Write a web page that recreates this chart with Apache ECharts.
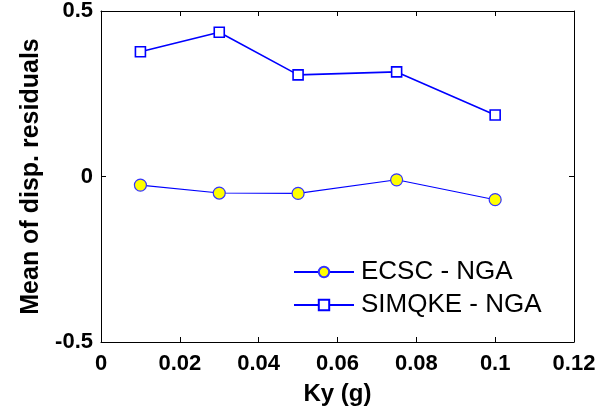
<!DOCTYPE html>
<html><head><meta charset="utf-8">
<script src="https://cdn.jsdelivr.net/npm/echarts@6/dist/echarts.min.js"></script>
<style>html,body{margin:0;padding:0;background:#fff}#c{width:599px;height:412px}</style>
</head><body><div id="c"></div>
<script>
var kyValues = [0.01, 0.03, 0.05, 0.075, 0.1];
var ecscNga = [-0.026, -0.050, -0.051, -0.010, -0.070];
var simqkeNga = [0.377, 0.436, 0.307, 0.316, 0.186];
var seriesNames = ['ECSC - NGA', 'SIMQKE - NGA'];
var xTitle = 'Ky (g)';
var yTitle = 'Mean of disp. residuals';

function pairs(xs, ys){ return xs.map(function(x,i){ return [x, ys[i]]; }); }
var font = 'Liberation Sans, Arial, sans-serif';
var chart = echarts.init(document.getElementById('c'));
var axisCommon = {
  axisLine:{show:true, onZero:false, lineStyle:{color:'#000', width:1}},
  axisTick:{show:true, inside:true, length:5, lineStyle:{color:'#000'}},
  splitLine:{show:false}
};
chart.setOption({
  animation:false,
  backgroundColor:'#fff',
  grid:{left:101, right:25, top:11, bottom:70},
  legend:{
    orient:'vertical', left:293, top:259, padding:0, itemWidth:60, itemHeight:13, itemGap:7,
    textStyle:{fontFamily:font, fontSize:26, color:'#000', padding:[0,0,0,2]},
    data:seriesNames
  },
  xAxis:[
    Object.assign({type:'value', min:0, max:0.12, interval:0.02, position:'bottom',
      name:xTitle, nameLocation:'middle', nameGap:40,
      nameTextStyle:{fontFamily:font, fontSize:24, fontWeight:'bold', color:'#000'},
      axisLabel:{fontFamily:font, fontSize:22, fontWeight:'bold', color:'#000', margin:11,
        formatter:function(v){ return String(+v.toFixed(2)); }}}, axisCommon),
    Object.assign({type:'value', min:0, max:0.12, interval:0.02, position:'top',
      axisLabel:{show:false}}, axisCommon)
  ],
  yAxis:[
    Object.assign({type:'value', min:-0.5, max:0.5, interval:0.5, position:'left',
      name:yTitle, nameLocation:'middle', nameGap:57,
      nameTextStyle:{fontFamily:font, fontSize:25, fontWeight:'bold', color:'#000'},
      axisLabel:{fontFamily:font, fontSize:22, fontWeight:'bold', color:'#000', margin:8,
        padding:[5,0,0,0]}}, axisCommon),
    Object.assign({type:'value', min:-0.5, max:0.5, interval:0.5, position:'right',
      axisLabel:{show:false}}, axisCommon)
  ],
  series:[
    {name:seriesNames[0], type:'line', data:pairs(kyValues, ecscNga),
     symbol:'circle', symbolSize:12, showAllSymbol:true,
     lineStyle:{color:'#0000ff', width:1.1},
     itemStyle:{color:'#ffff00', borderColor:'#3333ff', borderWidth:1.2}},
    {name:seriesNames[1], type:'line', data:pairs(kyValues, simqkeNga),
     symbol:'rect', symbolSize:10, showAllSymbol:true,
     lineStyle:{color:'#0000ff', width:1.6},
     itemStyle:{color:'#ffffff', borderColor:'#0000ff', borderWidth:1.6}}
  ]
});
</script></body></html>
